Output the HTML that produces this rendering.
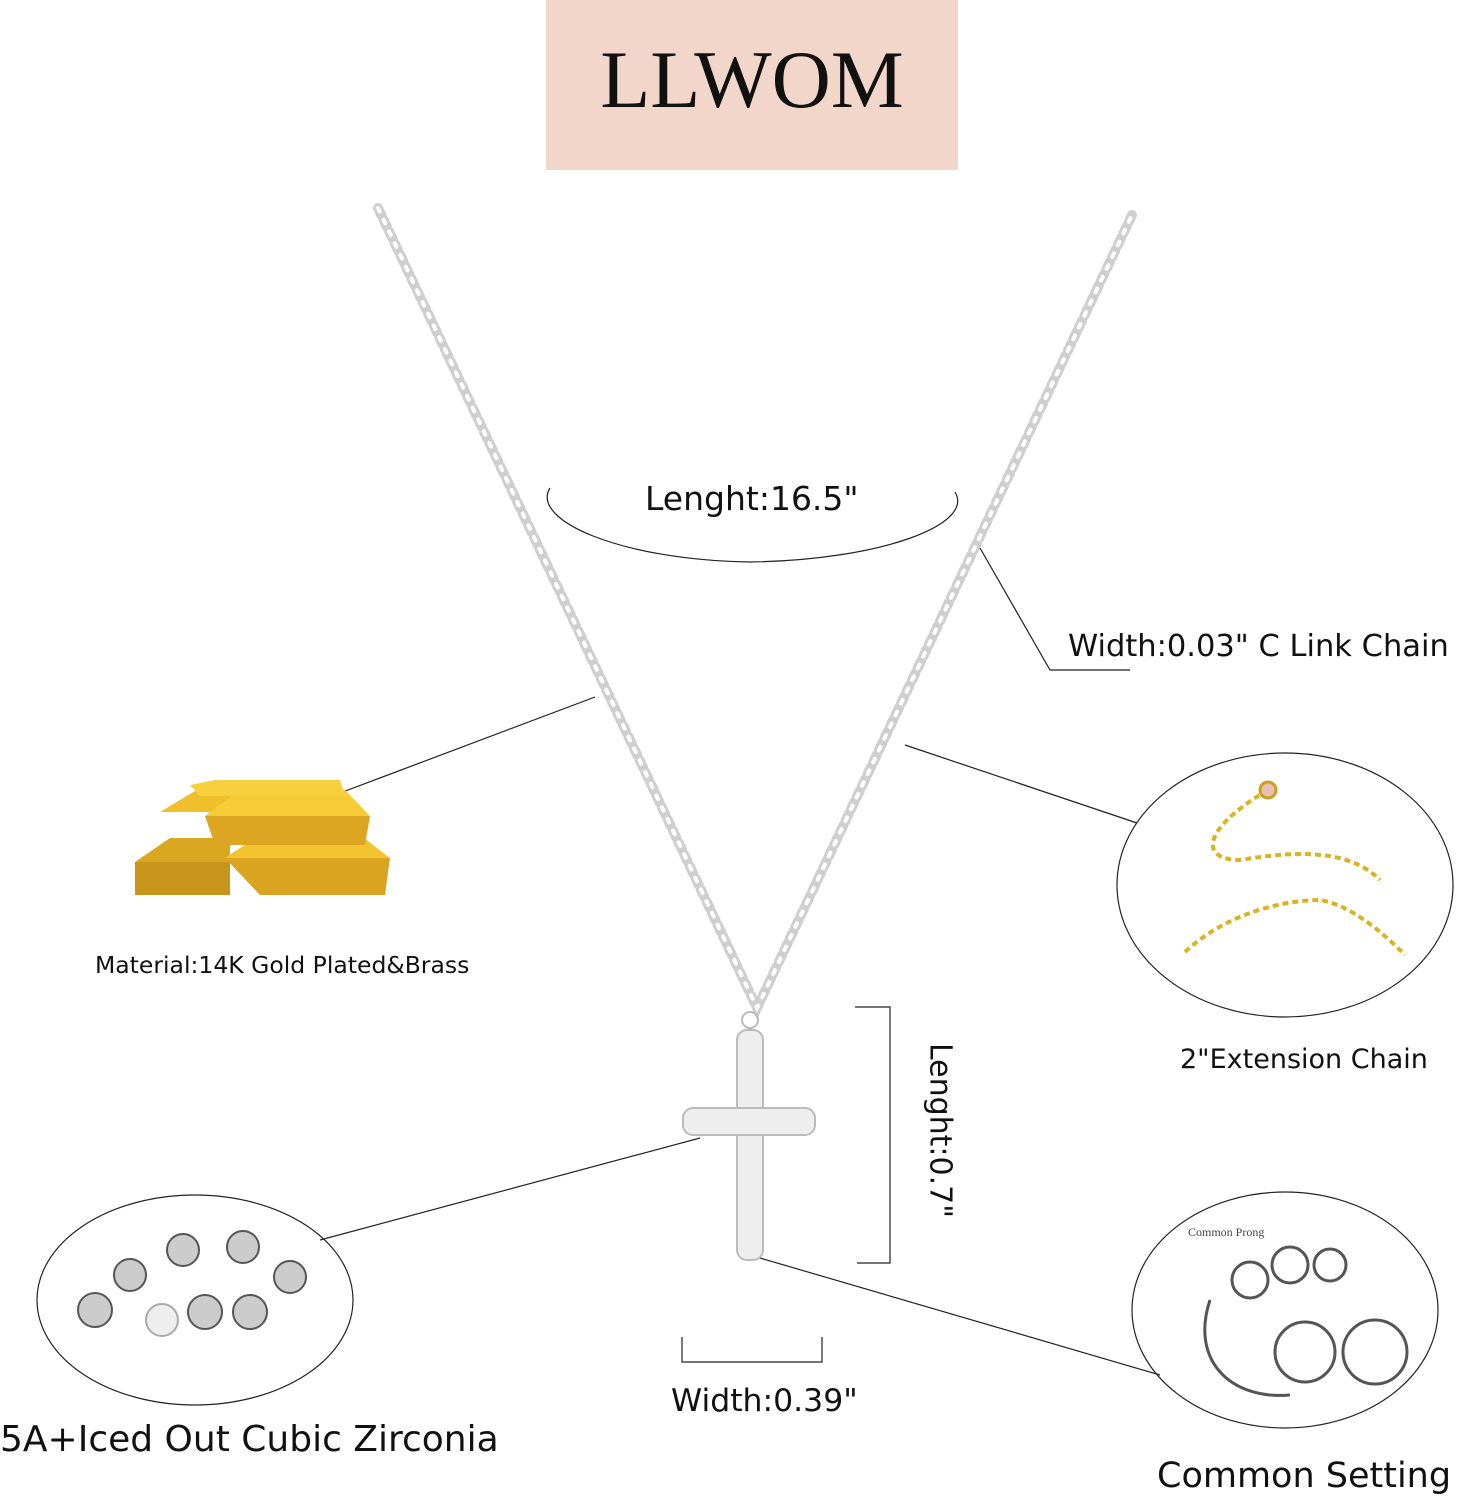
<!DOCTYPE html>
<html><head><meta charset="utf-8"><style>
html,body{margin:0;padding:0;background:#fff;}
body{width:1463px;height:1500px;position:relative;overflow:hidden;font-family:"DejaVu Sans","Liberation Sans",sans-serif;color:#111;}
.t{position:absolute;white-space:nowrap;}
</style></head><body>
<div style="position:absolute;left:546px;top:0;width:412px;height:170px;background:#f2d6c9"></div>
<div class="t" style="left:546px;width:412px;text-align:center;top:33px;font-family:'Liberation Serif',serif;font-size:82px;">LLWOM</div>

<svg width="1463" height="1500" style="position:absolute;left:0;top:0">
 <g fill="none" stroke-linecap="round">
  <path d="M378 208 L757 1008 L1132 215" stroke="#cfcfcf" stroke-width="10" stroke-dasharray="8 5"/>
  <path d="M378 208 L757 1008 L1132 215" stroke="#fff" stroke-width="4" stroke-dasharray="4 9"/>
 </g>
 <g stroke="#222" stroke-width="1.2" fill="none">
  <path d="M550 488 C 530 520, 620 560, 750 562 C 880 560, 975 525, 955 492"/>
  <path d="M980 548 L1050 670 L1130 670"/>
  <path d="M595 697 L340 793"/>
  <path d="M905 745 L1137 823"/>
  <ellipse cx="1285" cy="885" rx="168" ry="132"/>
  <path d="M855 1007 L890 1007 L890 1263 L857 1263"/>
  <path d="M700 1138 L320 1240"/>
  <ellipse cx="195" cy="1300" rx="158" ry="105"/>
  <path d="M682 1337 L682 1362 L822 1362 L822 1337"/>
  <path d="M760 1258 L1160 1375"/>
  <ellipse cx="1285" cy="1310" rx="153" ry="118"/>
 </g>
 <g>
  <polygon points="135,862 170,838 230,838 230,862" fill="#d9a820"/>
  <polygon points="135,862 230,862 230,895 135,895" fill="#c8941a"/>
  <polygon points="225,858 260,835 360,835 390,858" fill="#f2c530"/>
  <polygon points="225,858 390,858 385,895 260,895" fill="#d9a420"/>
  <polygon points="160,812 200,788 300,788 300,812" fill="#f0c02c"/>
  <polygon points="205,816 240,790 345,790 370,816" fill="#f5cc38"/>
  <polygon points="205,816 370,816 365,845 215,845" fill="#dca622"/>
  <polygon points="190,785 215,780 340,780 345,796 200,796" fill="#f7d040"/>
 </g>
 <g fill="#eee" stroke="#bbb" stroke-width="2">
  <rect x="737" y="1030" width="26" height="230" rx="10"/>
  <rect x="683" y="1108" width="132" height="27" rx="10"/>
  <circle cx="750" cy="1020" r="8" fill="none"/>
 </g>
 <g fill="#ccc" stroke="#555" stroke-width="2">
  <circle cx="183" cy="1250" r="16"/><circle cx="243" cy="1247" r="16"/>
  <circle cx="130" cy="1275" r="16"/><circle cx="290" cy="1277" r="16"/>
  <circle cx="95" cy="1310" r="17"/><circle cx="162" cy="1320" r="16" fill="#eee" stroke="#aaa"/>
  <circle cx="205" cy="1312" r="17"/><circle cx="250" cy="1312" r="17"/>
 </g>
 <g fill="none" stroke="#d9b420" stroke-width="4" stroke-dasharray="6 4">
  <path d="M1268 790 C1200 830, 1200 860, 1240 860 C1300 850, 1350 850, 1380 880"/>
  <path d="M1185 952 C1230 910, 1290 900, 1320 900 C1350 905, 1380 930, 1405 955"/>
 </g>
 <circle cx="1268" cy="790" r="8" fill="#e8c0b0" stroke="#c8a020" stroke-width="3"/>
 <g fill="none" stroke="#555" stroke-width="3">
  <path d="M1210 1300 C1190 1360, 1230 1400, 1290 1395"/>
  <circle cx="1250" cy="1280" r="18"/><circle cx="1290" cy="1265" r="18"/><circle cx="1330" cy="1265" r="16"/>
  <circle cx="1305" cy="1352" r="30"/><circle cx="1375" cy="1352" r="32"/>
 </g>
</svg>

<div class="t" style="left:645px;top:479px;font-size:33px;">Lenght:16.5"</div>
<div class="t" style="left:1068px;top:629px;font-size:30.5px;">Width:0.03" C Link Chain</div>
<div class="t" style="left:95px;top:951px;font-size:23.5px;">Material:14K Gold Plated&amp;Brass</div>
<div class="t" style="left:1180px;top:1044px;font-size:27px;">2"Extension Chain</div>
<div class="t" style="left:1188px;top:1225px;font-size:12px;font-family:'Liberation Serif',serif;color:#444;">Common Prong</div>
<div class="t" style="left:845px;top:1113px;width:190px;text-align:center;font-size:30px;transform:rotate(90deg);">Lenght:0.7"</div>
<div class="t" style="left:0px;top:1419px;font-size:36px;">5A+Iced Out Cubic Zirconia</div>
<div class="t" style="left:671px;top:1383px;font-size:31.5px;">Width:0.39"</div>
<div class="t" style="left:1157px;top:1456px;font-size:35px;">Common Setting</div>
</body></html>
